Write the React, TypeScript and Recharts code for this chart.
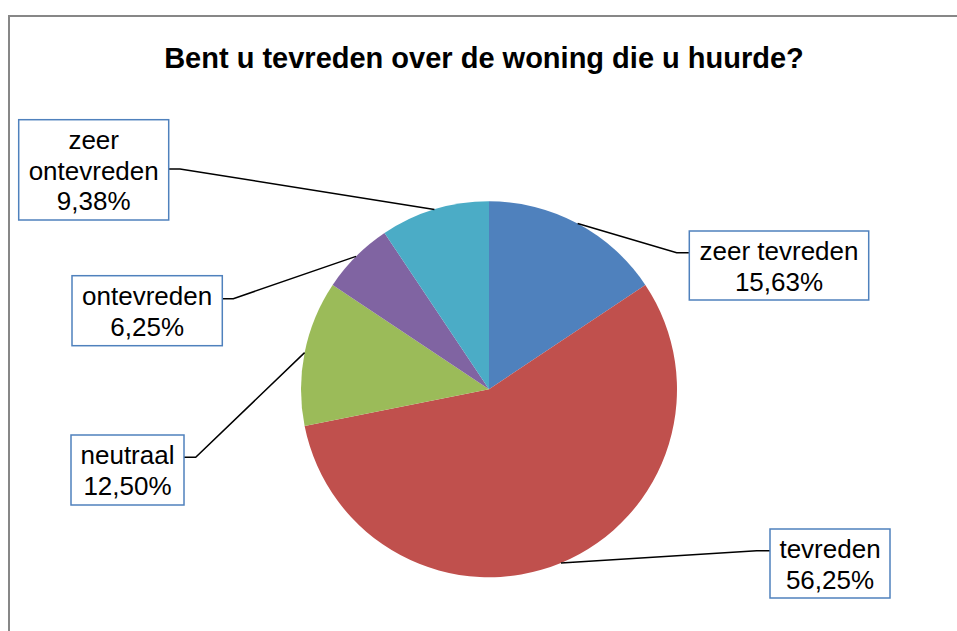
import React from "react";
import { PieChart, Pie, Cell } from "recharts";

const categories = ["zeer tevreden", "tevreden", "neutraal", "ontevreden", "zeer ontevreden"];
const labelLines = [["zeer tevreden"], ["tevreden"], ["neutraal"], ["ontevreden"], ["zeer", "ontevreden"]];
const values = [15.63, 56.25, 12.5, 6.25, 9.38];
const colors = ["#4F81BD", "#C0504D", "#9BBB59", "#8064A2", "#4BACC6"];
const title = "Bent u tevreden over de woning die u huurde?";

const data = categories.map((name, i) => ({ name, value: values[i] }));

// label box layout, relative to pie centre (style/layout only)
const CX = 489;
const CY = 389.3;
const R = 188;
const boxLayout = [
  { x: 200.3, y: -158.3, w: 179.4, h: 69, ex: 187.7, ey: -136.6, side: "right" },
  { x: 281, y: 139.7, w: 120, h: 69, ex: 267.7, ey: 161.4, side: "right" },
  { x: -418, y: 45.7, w: 113, h: 70, ex: -293.3, ey: 68, side: "left" },
  { x: -417, y: -113.6, w: 150.3, h: 70, ex: -255.7, ey: -90.6, side: "left" },
  { x: -470.3, y: -269.6, w: 150, h: 100.3, ex: -309, ey: -220.3, side: "left" },
];

const FONT = "'Liberation Sans', Arial, Helvetica, sans-serif";
const RAD = Math.PI / 180;

const renderLabel = (props: any) => {
  const { cx, cy, midAngle, outerRadius, index } = props;
  const b = boxLayout[index];
  const sx = cx + outerRadius * Math.cos(-midAngle * RAD);
  const sy = cy + outerRadius * Math.sin(-midAngle * RAD);
  const ex = cx + b.ex;
  const ey = cy + b.ey;
  const bx = cx + b.x;
  const by = cy + b.y;
  const connectX = b.side === "right" ? bx : bx + b.w;
  const lines = [...labelLines[index], values[index].toFixed(2).replace(".", ",") + "%"];
  const tx = bx + b.w / 2;
  return (
    <g key={`lbl-${index}`}>
      <polyline
        points={`${sx},${sy} ${ex},${ey} ${connectX},${ey}`}
        fill="none"
        stroke="#000"
        strokeWidth={1.5}
      />
      <rect x={bx} y={by} width={b.w} height={b.h} fill="#fff" stroke="#4F81BD" strokeWidth={1.5} />
      {lines.map((t, j) => (
        <text
          key={j}
          x={tx}
          y={by + 29 + j * 30.8}
          textAnchor="middle"
          fontFamily={FONT}
          fontSize={26}
          fill="#000"
        >
          {t}
        </text>
      ))}
    </g>
  );
};

export default function App() {
  return (
    <div style={{ position: "absolute", left: 0, top: 0, width: 957, height: 631, background: "#fff", overflow: "hidden" }}>
      <div
        style={{
          position: "absolute",
          left: 8,
          top: 15,
          width: 960,
          height: 700,
          borderTop: "2px solid #878787",
          borderLeft: "2px solid #878787",
          boxSizing: "border-box",
        }}
      />
      <svg width={957} height={631} style={{ position: "absolute", left: 0, top: 0 }}>
        <text x={484} y={68} textAnchor="middle" fontFamily={FONT} fontWeight="bold" fontSize={29} fill="#000">
          {title}
        </text>
      </svg>
      <div style={{ position: "absolute", left: 0, top: 0 }}>
        <PieChart width={957} height={631} margin={{ top: 0, right: 0, bottom: 0, left: 0 }}>
          <Pie
            data={data}
            dataKey="value"
            nameKey="name"
            cx={CX}
            cy={CY}
            outerRadius={R}
            startAngle={90}
            endAngle={-270}
            stroke="none"
            label={renderLabel}
            labelLine={false}
            isAnimationActive={false}
          >
            {data.map((d, i) => (
              <Cell key={d.name} fill={colors[i]} />
            ))}
          </Pie>
        </PieChart>
      </div>
    </div>
  );
}
